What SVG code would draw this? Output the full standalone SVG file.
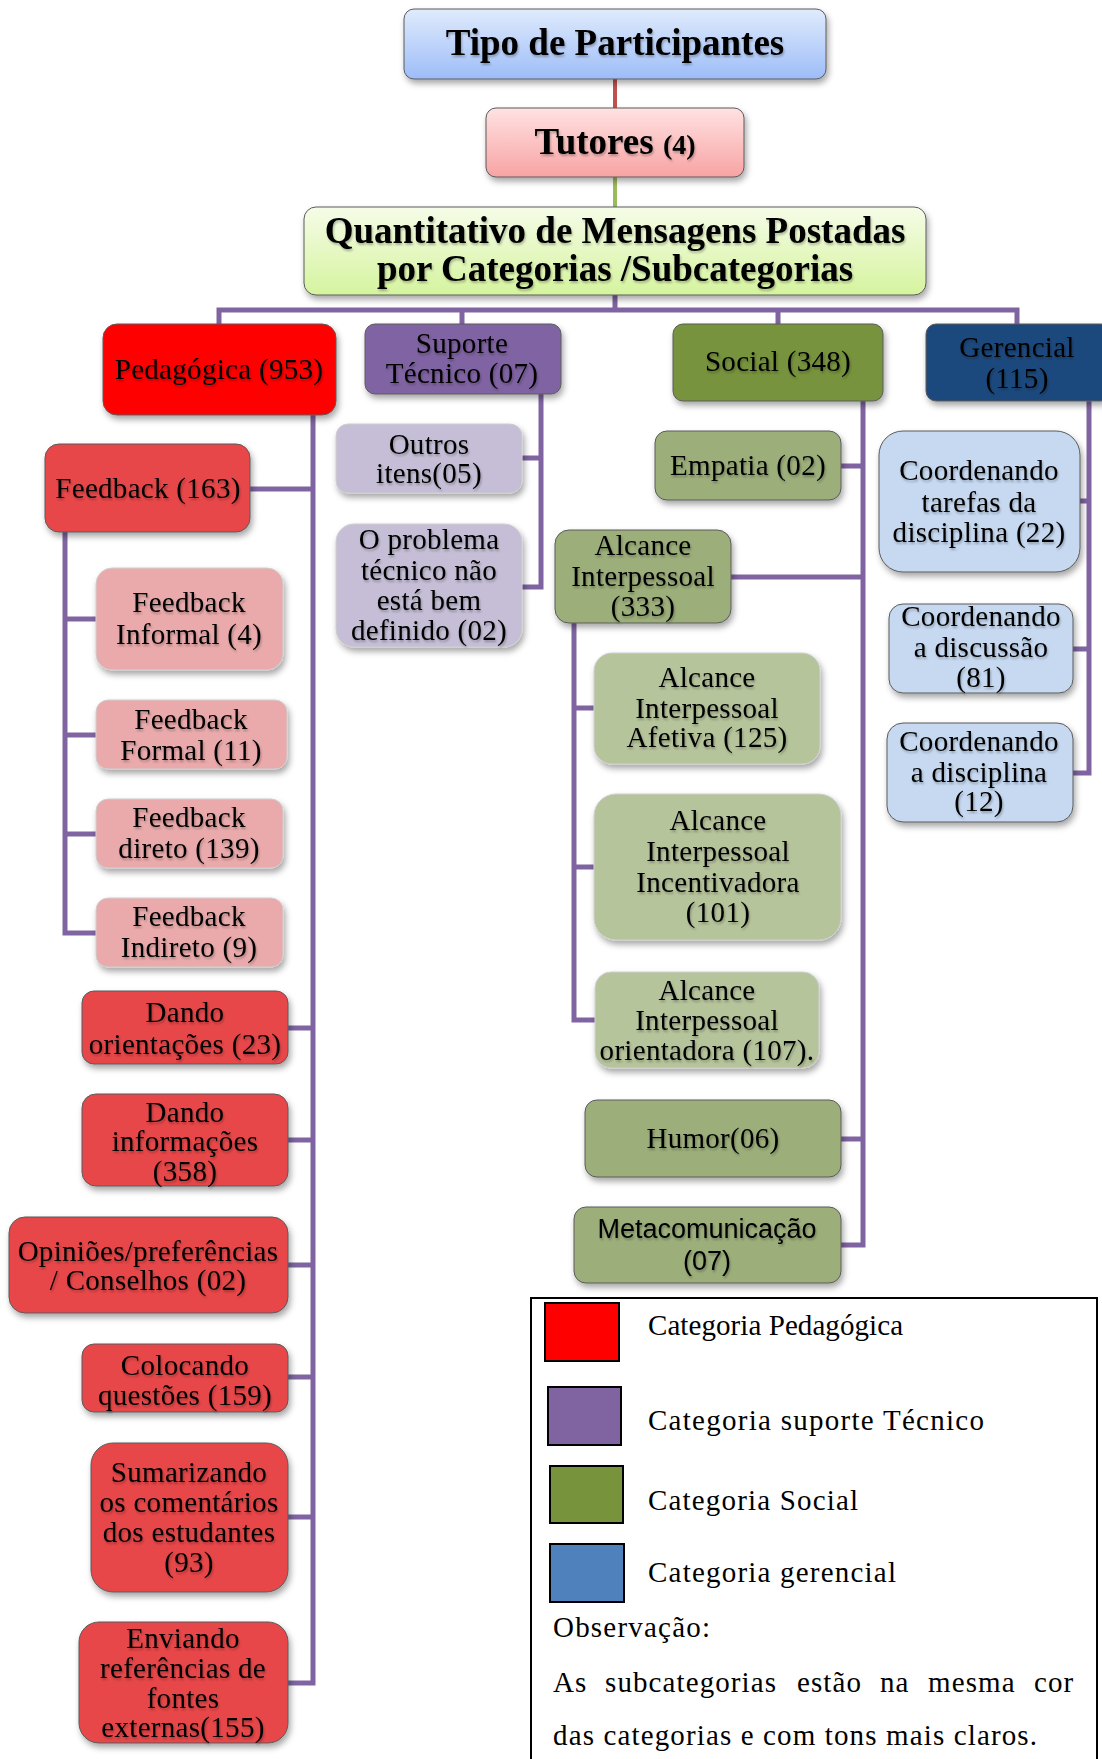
<svg xmlns="http://www.w3.org/2000/svg" width="1102" height="1759" viewBox="0 0 1102 1759">
<defs>
<linearGradient id="gTitle" x1="0" y1="0" x2="0" y2="1"><stop offset="0" stop-color="#E0EBFC"/><stop offset="1" stop-color="#9DBDF8"/></linearGradient>
<linearGradient id="gTut" x1="0" y1="0" x2="0" y2="1"><stop offset="0" stop-color="#FFE2E2"/><stop offset="1" stop-color="#F8A3A3"/></linearGradient>
<linearGradient id="gQ" x1="0" y1="0" x2="0" y2="1"><stop offset="0" stop-color="#F6FCE8"/><stop offset="1" stop-color="#D5F49E"/></linearGradient>
<filter id="sh" x="-10%" y="-10%" width="130%" height="140%"><feDropShadow dx="2" dy="4" stdDeviation="3" flood-color="#000" flood-opacity="0.35"/></filter>
<filter id="ts" x="-5%" y="-20%" width="115%" height="150%"><feDropShadow dx="1" dy="2" stdDeviation="1.2" flood-color="#000" flood-opacity="0.28"/></filter>
<style>
.n{stroke:#5a5a5a;stroke-width:1;filter:url(#sh)}
.s{stroke:#cfcfcf;stroke-width:1;filter:url(#sh)}
.t{font-family:"Liberation Serif","Times New Roman",serif;font-size:29px;letter-spacing:0.3px;text-anchor:middle;fill:#000;filter:url(#ts)}
.h{font-family:"Liberation Serif","Times New Roman",serif;font-size:37px;font-weight:bold;text-anchor:middle;fill:#000;filter:url(#ts)}
.sans{font-family:"Liberation Sans",Arial,sans-serif;font-size:27px;text-anchor:middle;fill:#000;filter:url(#ts)}
.c{stroke:#8064A2;stroke-width:5;fill:none}
.lg{font-family:"Liberation Serif","Times New Roman",serif;font-size:29px;fill:#000}
.red{fill:#FF0000}.pur{fill:#8064A2}.grn{fill:#77933C}.blu{fill:#1F497D}
.r2{fill:#E8464A}.r3{fill:#EAAAAB}.p2{fill:#C5BED6}.g2{fill:#9CAE7A}.g3{fill:#B6C49B}.b2{fill:#C6D9F1}
</style>
</defs>

<g id="connectors">
<line x1="615" y1="79" x2="615" y2="108" stroke="#C0504D" stroke-width="4"/>
<line x1="615" y1="177" x2="615" y2="207" stroke="#9BBB59" stroke-width="4"/>
<path class="c" d="M615 295 V310 M219 324 V310 H1017 V324 M462 310 V324 M778 310 V324"/>
<path class="c" d="M313 415 V1683 H288 M250 489 H313 M288 1028 H313 M288 1140 H313 M288 1265 H313 M288 1377 H313 M288 1517 H313"/>
<path class="c" d="M65 532 V933 H96 M65 619 H96 M65 735 H96 M65 834 H96"/>
<path class="c" d="M541 394 V587 H522 M522 458 H541"/>
<path class="c" d="M863 401 V1245 H841 M841 466 H863 M731 577 H863 M841 1139 H863"/>
<path class="c" d="M574 623 V1020 H595 M574 708 H594 M574 867 H594"/>
<path class="c" d="M1089 401 V773 H1073 M1080 501 H1089 M1073 649 H1089"/>
</g>

<g id="n-title"><rect class="n" x="404" y="9" width="422" height="70" rx="10" fill="url(#gTitle)"/><text class="h" x="615" y="55">Tipo de Participantes</text></g>
<g id="n-tutores"><rect class="n" x="486" y="108" width="258" height="69" rx="10" fill="url(#gTut)"/><text class="h" x="615" y="154">Tutores <tspan font-size="28px">(4)</tspan></text></g>
<g id="n-quant"><rect class="n" x="304" y="207" width="622" height="88" rx="12" fill="url(#gQ)"/><text class="h" x="615" y="243">Quantitativo de Mensagens Postadas</text><text class="h" x="615" y="281">por Categorias /Subcategorias</text></g>

<g id="n-pedagogica"><rect class="n red" x="103" y="324" width="233" height="91" rx="14"/><text class="t" x="219" y="379">Pedagógica (953)</text></g>
<g id="n-suporte"><rect class="n pur" x="365" y="324" width="196" height="70" rx="10"/><text class="t" x="462" y="353">Suporte</text><text class="t" x="462" y="383">Técnico (07)</text></g>
<g id="n-social"><rect class="n grn" x="673" y="324" width="210" height="77" rx="10"/><text class="t" x="778" y="371">Social (348)</text></g>
<g id="n-gerencial"><rect class="n blu" x="926" y="324" width="185" height="77" rx="10"/><text class="t" x="1017" y="357">Gerencial</text><text class="t" x="1017" y="388">(115)</text></g>

<g id="n-feedback"><rect class="n r2" x="45" y="444" width="205" height="88" rx="14"/><text class="t" x="148" y="498">Feedback (163)</text></g>
<g id="n-fb-informal"><rect class="s r3" x="96" y="568" width="187" height="102" rx="16"/><text class="t" x="189" y="612">Feedback</text><text class="t" x="189" y="644">Informal (4)</text></g>
<g id="n-fb-formal"><rect class="s r3" x="96" y="700" width="191" height="69" rx="12"/><text class="t" x="191" y="729">Feedback</text><text class="t" x="191" y="760">Formal (11)</text></g>
<g id="n-fb-direto"><rect class="s r3" x="96" y="799" width="187" height="69" rx="12"/><text class="t" x="189" y="827">Feedback</text><text class="t" x="189" y="858">direto (139)</text></g>
<g id="n-fb-indireto"><rect class="s r3" x="96" y="898" width="187" height="69" rx="12"/><text class="t" x="189" y="926">Feedback</text><text class="t" x="189" y="957">Indireto (9)</text></g>
<g id="n-orientacoes"><rect class="n r2" x="82" y="991" width="206" height="73" rx="12"/><text class="t" x="185" y="1022">Dando</text><text class="t" x="185" y="1054">orientações (23)</text></g>
<g id="n-informacoes"><rect class="n r2" x="82" y="1094" width="206" height="92" rx="14"/><text class="t" x="185" y="1122">Dando</text><text class="t" x="185" y="1151">informações</text><text class="t" x="185" y="1181">(358)</text></g>
<g id="n-opinioes"><rect class="n r2" x="9" y="1217" width="279" height="96" rx="16"/><text class="t" x="148" y="1261">Opiniões/preferências</text><text class="t" x="148" y="1290">/ Conselhos (02)</text></g>
<g id="n-questoes"><rect class="n r2" x="82" y="1344" width="206" height="68" rx="12"/><text class="t" x="185" y="1375">Colocando</text><text class="t" x="185" y="1405">questões (159)</text></g>
<g id="n-sumarizando"><rect class="n r2" x="91" y="1443" width="197" height="149" rx="22"/><text class="t" x="189" y="1482">Sumarizando</text><text class="t" x="189" y="1512">os comentários</text><text class="t" x="189" y="1542">dos estudantes</text><text class="t" x="189" y="1572">(93)</text></g>
<g id="n-enviando"><rect class="n r2" x="79" y="1622" width="209" height="121" rx="20"/><text class="t" x="183" y="1648">Enviando</text><text class="t" x="183" y="1678">referências de</text><text class="t" x="183" y="1708">fontes</text><text class="t" x="183" y="1737">externas(155)</text></g>

<g id="n-outros"><rect class="s p2" x="336" y="424" width="186" height="69" rx="12"/><text class="t" x="429" y="454">Outros</text><text class="t" x="429" y="483">itens(05)</text></g>
<g id="n-problema"><rect class="s p2" x="336" y="524" width="186" height="123" rx="18"/><text class="t" x="429" y="549">O problema</text><text class="t" x="429" y="580">técnico não</text><text class="t" x="429" y="610">está bem</text><text class="t" x="429" y="640">definido (02)</text></g>

<g id="n-empatia"><rect class="n g2" x="655" y="431" width="186" height="69" rx="12"/><text class="t" x="748" y="475">Empatia (02)</text></g>
<g id="n-alcance"><rect class="n g2" x="555" y="530" width="176" height="93" rx="14"/><text class="t" x="643" y="555">Alcance</text><text class="t" x="643" y="586">Interpessoal</text><text class="t" x="643" y="616">(333)</text></g>
<g id="n-afetiva"><rect class="s g3" x="594" y="653" width="226" height="111" rx="18"/><text class="t" x="707" y="687">Alcance</text><text class="t" x="707" y="718">Interpessoal</text><text class="t" x="707" y="747">Afetiva (125)</text></g>
<g id="n-incentivadora"><rect class="s g3" x="594" y="794" width="247" height="146" rx="22"/><text class="t" x="718" y="830">Alcance</text><text class="t" x="718" y="861">Interpessoal</text><text class="t" x="718" y="892">Incentivadora</text><text class="t" x="718" y="922">(101)</text></g>
<g id="n-orientadora"><rect class="s g3" x="595" y="972" width="224" height="96" rx="16"/><text class="t" x="707" y="1000">Alcance</text><text class="t" x="707" y="1030">Interpessoal</text><text class="t" x="707" y="1060">orientadora (107).</text></g>
<g id="n-humor"><rect class="n g2" x="585" y="1100" width="256" height="77" rx="12"/><text class="t" x="713" y="1148">Humor(06)</text></g>
<g id="n-metacom"><rect class="n g2" x="574" y="1207" width="267" height="76" rx="12"/><text class="sans" x="707" y="1238">Metacomunicação</text><text class="sans" x="707" y="1270">(07)</text></g>

<g id="n-coord-tarefas"><rect class="n b2" x="879" y="431" width="201" height="141" rx="24"/><text class="t" x="979" y="480">Coordenando</text><text class="t" x="979" y="512">tarefas da</text><text class="t" x="979" y="542">disciplina (22)</text></g>
<g id="n-coord-discussao"><rect class="n b2" x="889" y="604" width="184" height="89" rx="14"/><text class="t" x="981" y="626">Coordenando</text><text class="t" x="981" y="657">a discussão</text><text class="t" x="981" y="687">(81)</text></g>
<g id="n-coord-disciplina"><rect class="n b2" x="887" y="723" width="186" height="99" rx="16"/><text class="t" x="979" y="751">Coordenando</text><text class="t" x="979" y="782">a disciplina</text><text class="t" x="979" y="811">(12)</text></g>

<g id="legend">
<rect x="531" y="1298" width="566" height="480" fill="#fff" stroke="#000" stroke-width="2"/>
<rect x="545" y="1303" width="74" height="58" fill="#FF0000" stroke="#000" stroke-width="2"/>
<rect x="548" y="1387" width="73" height="58" fill="#8064A2" stroke="#000" stroke-width="2"/>
<rect x="550" y="1466" width="73" height="57" fill="#77933C" stroke="#000" stroke-width="2"/>
<rect x="550" y="1544" width="74" height="58" fill="#4F81BD" stroke="#000" stroke-width="2"/>
<text class="lg" x="648" y="1335" textLength="255" lengthAdjust="spacing">Categoria Pedagógica</text>
<text class="lg" x="648" y="1430" textLength="336" lengthAdjust="spacing">Categoria suporte Técnico</text>
<text class="lg" x="648" y="1510" textLength="210" lengthAdjust="spacing">Categoria Social</text>
<text class="lg" x="648" y="1582" textLength="248" lengthAdjust="spacing">Categoria gerencial</text>
<text class="lg" x="553" y="1637" textLength="157" lengthAdjust="spacing">Observação:</text>
<text class="lg" y="1692" letter-spacing="1.1"><tspan x="553">As</tspan><tspan x="605">subcategorias</tspan><tspan x="797">estão</tspan><tspan x="880">na</tspan><tspan x="928">mesma</tspan><tspan x="1034">cor</tspan></text>
<text class="lg" x="553" y="1745" textLength="484" lengthAdjust="spacing">das categorias e com tons mais claros.</text>
</g>
</svg>
